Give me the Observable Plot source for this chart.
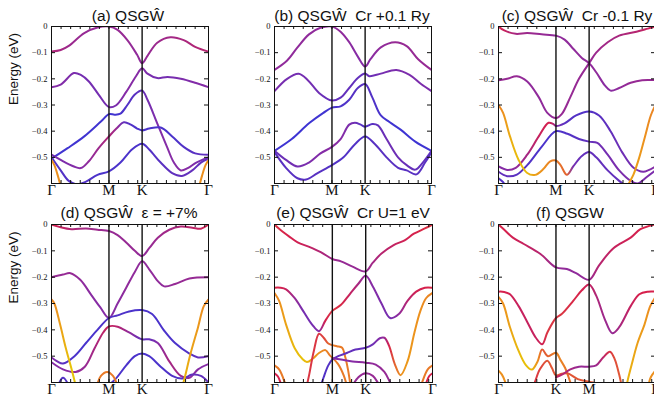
<!DOCTYPE html>
<html><head><meta charset="utf-8">
<script src="https://cdn.jsdelivr.net/npm/d3@7"></script>
<script src="https://cdn.jsdelivr.net/npm/@observablehq/plot@0.6"></script>
<style>
body{margin:0;background:#fff;}
#root{position:relative;width:654px;height:399px;overflow:hidden;background:#fff;}
#root svg{position:absolute;overflow:visible;}
.title{position:absolute;font-family:"Liberation Sans",Arial,sans-serif;font-size:15.5px;line-height:16px;white-space:pre;text-align:center;width:260px;color:#111;}
</style></head><body><div id="root"></div>
<script>
// ---- axis values ----
const kTicks = [0, 1, 1.577, 2.732];
const kLabels = ["Γ", "M", "K", "Γ"];
const kLabelsF = ["Γ", "K", "M", "Γ"];
const eTicks = [0, -0.1, -0.2, -0.3, -0.4, -0.5];
const titles = ["(a) QSGŴ", "(b) QSGŴ  Cr +0.1 Ry", "(c) QSGŴ  Cr -0.1 Ry",
                "(d) QSGŴ  ε = +7%", "(e) QSGŴ  Cr U=1 eV", "(f) QSGW"];
const weightStops = [0, 0.25, 0.5, 0.75, 1];
const weightColors = ["#e6d400", "#ec901e", "#d6204c", "#862ca6", "#2f36dc"];

// ---- bands: [k, energy (eV), orbital weight] ----
const bandsA = [
 [[0,-0.096,0.62],[0.16,-0.09,0.65],[0.3,-0.074,0.68],[0.57,-0.025,0.7],[0.8,-0.004,0.7],[1.0,0,0.7],[1.15,-0.013,0.7],[1.32,-0.052,0.7],[1.49,-0.108,0.72],[1.577,-0.14,0.72],[1.67,-0.112,0.7],[1.84,-0.062,0.68],[2.07,-0.041,0.66],[2.3,-0.052,0.64],[2.5,-0.078,0.62],[2.732,-0.096,0.6]],
 [[0,-0.232,0.75],[0.16,-0.222,0.76],[0.39,-0.178,0.78],[0.51,-0.185,0.8],[0.65,-0.21,0.8],[0.82,-0.26,0.8],[1.0,-0.308,0.8],[1.12,-0.302,0.78],[1.3,-0.25,0.75],[1.47,-0.19,0.75],[1.577,-0.16,0.75],[1.67,-0.18,0.78],[1.84,-0.197,0.8],[2.02,-0.193,0.8],[2.25,-0.2,0.78],[2.5,-0.215,0.76],[2.732,-0.232,0.75]],
 [[0,-0.505,0.95],[0.28,-0.465,0.95],[0.57,-0.42,0.95],[0.86,-0.363,0.95],[1.0,-0.335,0.95],[1.1,-0.337,0.95],[1.2,-0.333,0.93],[1.32,-0.3,0.9],[1.45,-0.26,0.88],[1.577,-0.245,0.85],[1.67,-0.28,0.8],[1.84,-0.37,0.77],[2.01,-0.46,0.75],[2.13,-0.52,0.75],[2.25,-0.55,0.75],[2.38,-0.54,0.75],[2.52,-0.52,0.78],[2.732,-0.5,0.8]],
 [[0,-0.49,0.8],[0.16,-0.51,0.78],[0.39,-0.535,0.76],[0.51,-0.541,0.75],[0.65,-0.515,0.72],[0.82,-0.465,0.68],[1.0,-0.42,0.62],[1.13,-0.39,0.7],[1.26,-0.366,0.85],[1.38,-0.375,0.9],[1.49,-0.39,0.92],[1.577,-0.397,0.92],[1.7,-0.39,0.92],[1.9,-0.386,0.92],[2.1,-0.42,0.92],[2.3,-0.46,0.9],[2.5,-0.485,0.88],[2.732,-0.49,0.85]],
 [[0,-0.5,0.9],[0.16,-0.55,0.9],[0.3,-0.59,0.9],[0.45,-0.603,0.9],[0.6,-0.593,0.9],[0.8,-0.567,0.92],[1.0,-0.554,0.92],[1.2,-0.52,0.92],[1.4,-0.47,0.92],[1.577,-0.448,0.92],[1.7,-0.47,0.9],[1.9,-0.52,0.88],[2.1,-0.56,0.86],[2.27,-0.571,0.85],[2.45,-0.55,0.85],[2.6,-0.52,0.85],[2.732,-0.505,0.85]],
 [[0,-0.51,0.25],[0.05,-0.53,0.25],[0.11,-0.57,0.25],[0.17,-0.62,0.25]],
 [[2.56,-0.62,0.25],[2.62,-0.57,0.25],[2.68,-0.53,0.25],[2.732,-0.51,0.25]]
];
const bandsB = [
 [[0,-0.166,0.72],[0.22,-0.13,0.72],[0.4,-0.08,0.72],[0.6,-0.03,0.72],[0.8,-0.005,0.72],[1.0,0,0.72],[1.15,-0.02,0.72],[1.3,-0.06,0.73],[1.45,-0.115,0.75],[1.577,-0.153,0.75],[1.67,-0.125,0.74],[1.85,-0.08,0.72],[2.1,-0.06,0.7],[2.3,-0.075,0.7],[2.5,-0.125,0.7],[2.732,-0.166,0.7]],
 [[0,-0.247,0.78],[0.22,-0.2,0.8],[0.42,-0.181,0.8],[0.58,-0.205,0.8],[0.78,-0.255,0.82],[1.0,-0.283,0.85],[1.15,-0.272,0.85],[1.3,-0.235,0.85],[1.45,-0.197,0.85],[1.577,-0.18,0.85],[1.65,-0.19,0.83],[1.85,-0.18,0.8],[2.12,-0.166,0.78],[2.35,-0.185,0.78],[2.55,-0.22,0.78],[2.732,-0.247,0.78]],
 [[0,-0.475,0.95],[0.3,-0.43,0.96],[0.6,-0.37,0.96],[0.85,-0.33,0.95],[1.0,-0.31,0.93],[1.15,-0.305,0.92],[1.3,-0.28,0.9],[1.45,-0.235,0.88],[1.577,-0.22,0.88],[1.7,-0.27,0.9],[1.85,-0.34,0.93],[2.0,-0.365,0.95],[2.2,-0.395,0.96],[2.45,-0.44,0.96],[2.732,-0.475,0.95]],
 [[0,-0.475,0.85],[0.2,-0.51,0.82],[0.4,-0.535,0.8],[0.6,-0.52,0.78],[0.8,-0.485,0.76],[1.0,-0.46,0.74],[1.15,-0.43,0.75],[1.3,-0.375,0.78],[1.4,-0.368,0.82],[1.5,-0.375,0.88],[1.577,-0.383,0.9],[1.7,-0.373,0.88],[1.8,-0.378,0.85],[1.95,-0.43,0.82],[2.15,-0.5,0.82],[2.3,-0.53,0.84],[2.45,-0.547,0.85],[2.58,-0.52,0.85],[2.732,-0.475,0.85]],
 [[0,-0.48,0.88],[0.2,-0.54,0.88],[0.4,-0.58,0.88],[0.55,-0.585,0.88],[0.75,-0.56,0.88],[1.0,-0.53,0.9],[1.2,-0.5,0.9],[1.4,-0.45,0.9],[1.577,-0.42,0.9],[1.75,-0.45,0.88],[1.95,-0.5,0.88],[2.15,-0.54,0.88],[2.3,-0.55,0.88],[2.47,-0.565,0.88],[2.62,-0.52,0.88],[2.732,-0.48,0.88]]
];
const bandsC = [
 [[0,0,0.48],[0.1,-0.015,0.55],[0.3,-0.028,0.65],[0.5,-0.025,0.68],[0.75,-0.03,0.7],[1.0,-0.035,0.72],[1.15,-0.05,0.72],[1.3,-0.085,0.72],[1.45,-0.12,0.72],[1.577,-0.14,0.72],[1.7,-0.175,0.72],[1.85,-0.225,0.74],[1.95,-0.245,0.74],[2.1,-0.235,0.72],[2.3,-0.215,0.7],[2.5,-0.205,0.7],[2.732,-0.205,0.7]],
 [[0,-0.205,0.7],[0.15,-0.2,0.7],[0.32,-0.19,0.7],[0.5,-0.21,0.72],[0.7,-0.27,0.72],[0.85,-0.33,0.72],[1.0,-0.35,0.7],[1.1,-0.335,0.7],[1.25,-0.27,0.7],[1.4,-0.2,0.7],[1.577,-0.14,0.7],[1.7,-0.1,0.68],[1.9,-0.06,0.66],[2.1,-0.035,0.64],[2.4,-0.02,0.6],[2.6,-0.008,0.55],[2.732,0,0.5]],
 [[0,-0.535,0.75],[0.15,-0.548,0.75],[0.3,-0.54,0.72],[0.5,-0.49,0.65],[0.7,-0.42,0.55],[0.87,-0.368,0.5],[0.95,-0.372,0.6],[1.0,-0.38,0.75],[1.15,-0.37,0.88],[1.35,-0.34,0.9],[1.577,-0.325,0.9],[1.75,-0.34,0.88],[1.95,-0.4,0.85],[2.15,-0.48,0.82],[2.35,-0.54,0.8],[2.52,-0.555,0.78],[2.732,-0.535,0.75]],
 [[0,-0.555,0.85],[0.15,-0.572,0.85],[0.32,-0.566,0.88],[0.5,-0.53,0.9],[0.75,-0.46,0.92],[1.0,-0.4,0.92],[1.2,-0.41,0.9],[1.4,-0.43,0.88],[1.577,-0.44,0.85],[1.72,-0.445,0.82],[1.9,-0.49,0.8],[2.1,-0.55,0.78],[2.3,-0.59,0.78],[2.42,-0.6,0.78],[2.58,-0.575,0.78],[2.732,-0.55,0.78]],
 [[0,-0.3,0.28],[0.08,-0.33,0.25],[0.2,-0.42,0.15],[0.35,-0.51,0.08],[0.5,-0.56,0.1],[0.64,-0.567,0.2],[0.78,-0.545,0.25],[0.9,-0.515,0.28],[1.0,-0.512,0.3],[1.08,-0.53,0.32],[1.19,-0.567,0.35],[1.3,-0.535,0.8],[1.45,-0.495,0.85],[1.577,-0.48,0.85],[1.7,-0.5,0.85],[1.9,-0.55,0.85],[2.1,-0.59,0.85],[2.25,-0.615,0.85]],
 [[2.25,-0.62,0.2],[2.27,-0.6,0.2],[2.35,-0.565,0.2],[2.45,-0.5,0.22],[2.55,-0.42,0.25],[2.65,-0.34,0.27],[2.732,-0.3,0.28]],
 [[0,-0.58,0.9],[0.08,-0.595,0.9],[0.15,-0.62,0.9]]
];
const bandsD = [
 [[0,0,0.5],[0.15,-0.01,0.55],[0.35,-0.018,0.62],[0.6,-0.015,0.66],[0.8,-0.02,0.68],[1.0,-0.025,0.7],[1.15,-0.04,0.7],[1.3,-0.068,0.7],[1.45,-0.1,0.7],[1.577,-0.12,0.72],[1.7,-0.09,0.7],[1.85,-0.05,0.68],[2.05,-0.02,0.66],[2.25,-0.008,0.62],[2.45,-0.012,0.58],[2.6,-0.016,0.55],[2.732,0,0.5]],
 [[0,-0.2,0.7],[0.2,-0.19,0.7],[0.33,-0.185,0.7],[0.5,-0.21,0.72],[0.7,-0.27,0.74],[0.85,-0.315,0.75],[1.0,-0.355,0.75],[1.15,-0.3,0.74],[1.3,-0.24,0.72],[1.45,-0.18,0.72],[1.577,-0.14,0.72],[1.7,-0.17,0.72],[1.85,-0.215,0.72],[1.96,-0.235,0.72],[2.15,-0.226,0.7],[2.4,-0.205,0.7],[2.732,-0.2,0.7]],
 [[0,-0.505,0.75],[0.1,-0.52,0.8],[0.2,-0.528,0.88],[0.4,-0.5,0.92],[0.6,-0.45,0.93],[0.8,-0.4,0.92],[1.0,-0.355,0.9],[1.15,-0.345,0.9],[1.35,-0.33,0.92],[1.577,-0.325,0.92],[1.75,-0.34,0.92],[1.95,-0.4,0.92],[2.15,-0.45,0.92],[2.4,-0.49,0.9],[2.55,-0.505,0.85],[2.732,-0.5,0.8]],
 [[0,-0.523,0.75],[0.2,-0.55,0.75],[0.42,-0.56,0.72],[0.58,-0.54,0.7],[0.75,-0.47,0.65],[0.9,-0.41,0.58],[1.0,-0.387,0.55],[1.15,-0.388,0.6],[1.35,-0.41,0.72],[1.577,-0.436,0.85],[1.7,-0.436,0.85],[1.85,-0.45,0.75],[2.05,-0.52,0.65],[2.25,-0.575,0.68],[2.4,-0.582,0.72],[2.55,-0.55,0.75],[2.732,-0.53,0.75]],
 [[0.93,-0.62,0.9],[1.1,-0.59,0.92],[1.3,-0.535,0.92],[1.45,-0.5,0.92],[1.577,-0.49,0.92],[1.7,-0.5,0.92],[1.9,-0.54,0.92],[2.1,-0.575,0.9],[2.28,-0.585,0.9],[2.45,-0.57,0.85],[2.6,-0.575,0.85],[2.732,-0.6,0.85]],
 [[0.1,-0.62,0.9],[0.2,-0.582,0.9],[0.32,-0.62,0.9]],
 [[0,-0.285,0.28],[0.05,-0.3,0.26],[0.15,-0.38,0.2],[0.25,-0.47,0.12],[0.35,-0.55,0.06],[0.43,-0.62,0.06]],
 [[0.78,-0.62,0.3],[0.86,-0.575,0.3],[0.97,-0.56,0.3],[1.07,-0.575,0.3],[1.15,-0.61,0.3],[1.18,-0.62,0.3]],
 [[2.27,-0.62,0.1],[2.32,-0.58,0.12],[2.42,-0.49,0.18],[2.55,-0.39,0.22],[2.65,-0.31,0.26],[2.732,-0.285,0.28]]
];
const bandsE = [
 [[0,0,0.45],[0.1,-0.02,0.48],[0.25,-0.045,0.5],[0.4,-0.068,0.52],[0.6,-0.085,0.56],[0.8,-0.105,0.62],[1.0,-0.131,0.68],[1.15,-0.14,0.7],[1.35,-0.16,0.7],[1.577,-0.178,0.7],[1.7,-0.145,0.66],[1.85,-0.11,0.6],[2.06,-0.078,0.56],[2.25,-0.06,0.52],[2.41,-0.035,0.5],[2.6,-0.015,0.47],[2.732,0,0.45]],
 [[0,-0.24,0.48],[0.1,-0.24,0.5],[0.2,-0.246,0.55],[0.35,-0.28,0.7],[0.5,-0.33,0.8],[0.65,-0.38,0.8],[0.77,-0.405,0.75],[0.88,-0.365,0.5],[1.0,-0.328,0.45],[1.15,-0.305,0.48],[1.3,-0.265,0.55],[1.45,-0.225,0.65],[1.577,-0.195,0.72],[1.7,-0.235,0.75],[1.85,-0.3,0.78],[2.0,-0.355,0.8],[2.15,-0.34,0.72],[2.3,-0.29,0.6],[2.45,-0.255,0.52],[2.6,-0.24,0.5],[2.732,-0.24,0.48]],
 [[0,-0.26,0.28],[0.08,-0.29,0.25],[0.2,-0.38,0.18],[0.35,-0.47,0.1],[0.48,-0.51,0.07],[0.56,-0.522,0.1],[0.66,-0.51,0.2],[0.77,-0.488,0.25],[0.88,-0.477,0.28],[0.95,-0.495,0.3],[1.0,-0.506,0.3],[1.1,-0.53,0.3],[1.2,-0.575,0.3],[1.26,-0.62,0.3]],
 [[0.55,-0.62,0.45],[0.6,-0.57,0.45],[0.68,-0.48,0.45],[0.77,-0.415,0.45],[0.85,-0.43,0.42],[0.93,-0.452,0.35],[1.0,-0.458,0.3],[1.08,-0.462,0.3],[1.17,-0.468,0.3],[1.22,-0.5,0.3],[1.27,-0.55,0.3],[1.32,-0.62,0.3]],
 [[0.79,-0.62,0.9],[0.85,-0.58,0.9],[0.93,-0.535,0.9],[1.0,-0.513,0.88],[1.1,-0.5,0.85],[1.25,-0.488,0.85],[1.4,-0.475,0.85],[1.577,-0.468,0.85],[1.7,-0.455,0.82],[1.82,-0.432,0.75],[1.9,-0.43,0.7],[1.98,-0.46,0.5],[2.08,-0.53,0.35],[2.18,-0.572,0.25],[2.3,-0.52,0.22],[2.42,-0.41,0.24],[2.52,-0.33,0.25],[2.62,-0.28,0.27],[2.732,-0.26,0.28]],
 [[1.0,-0.508,0.75],[1.15,-0.513,0.75],[1.35,-0.52,0.75],[1.577,-0.525,0.72],[1.75,-0.532,0.72],[1.9,-0.56,0.7],[2.0,-0.6,0.7],[2.05,-0.62,0.7]],
 [[1.33,-0.62,0.7],[1.45,-0.58,0.7],[1.577,-0.565,0.7],[1.7,-0.575,0.7],[1.8,-0.605,0.7],[1.85,-0.62,0.7]],
 [[0,-0.535,0.3],[0.08,-0.55,0.3],[0.17,-0.595,0.3],[0.2,-0.62,0.3]],
 [[0,-0.565,0.5],[0.06,-0.577,0.5],[0.13,-0.62,0.5]],
 [[2.53,-0.62,0.3],[2.56,-0.595,0.3],[2.65,-0.55,0.3],[2.732,-0.535,0.3]],
 [[2.6,-0.62,0.5],[2.67,-0.577,0.5],[2.732,-0.565,0.5]]
];
const bandsF = [
 [[0,0,0.48],[0.1,-0.02,0.5],[0.25,-0.05,0.52],[0.44,-0.074,0.55],[0.73,-0.112,0.6],[1.0,-0.163,0.7],[1.19,-0.169,0.72],[1.35,-0.185,0.72],[1.577,-0.21,0.7],[1.75,-0.155,0.6],[2.0,-0.09,0.55],[2.3,-0.05,0.52],[2.47,-0.018,0.5],[2.732,0,0.48]],
 [[0,-0.255,0.5],[0.1,-0.256,0.5],[0.2,-0.265,0.52],[0.35,-0.31,0.55],[0.5,-0.37,0.55],[0.65,-0.43,0.55],[0.76,-0.455,0.52],[0.85,-0.41,0.45],[1.0,-0.355,0.45],[1.1,-0.34,0.45],[1.3,-0.29,0.48],[1.45,-0.25,0.5],[1.577,-0.228,0.55],[1.7,-0.27,0.62],[1.85,-0.36,0.68],[1.98,-0.413,0.7],[2.1,-0.39,0.65],[2.3,-0.31,0.55],[2.45,-0.265,0.5],[2.6,-0.255,0.5],[2.732,-0.255,0.5]],
 [[0,-0.275,0.28],[0.08,-0.3,0.25],[0.2,-0.39,0.18],[0.35,-0.48,0.1],[0.48,-0.535,0.07],[0.58,-0.551,0.1],[0.68,-0.52,0.25],[0.76,-0.475,0.38],[0.86,-0.5,0.35],[1.0,-0.487,0.28],[1.08,-0.515,0.28],[1.16,-0.545,0.3],[1.22,-0.58,0.32],[1.28,-0.62,0.32]],
 [[0.6,-0.62,0.45],[0.64,-0.595,0.45],[0.72,-0.55,0.42],[0.85,-0.517,0.38],[0.93,-0.545,0.38],[1.0,-0.573,0.38],[1.1,-0.567,0.38],[1.2,-0.565,0.38],[1.38,-0.587,0.38],[1.577,-0.597,0.38],[1.65,-0.6,0.38]],
 [[1.0,-0.58,0.55],[1.12,-0.568,0.6],[1.25,-0.55,0.65],[1.4,-0.54,0.7],[1.577,-0.54,0.7],[1.7,-0.535,0.68],[1.82,-0.505,0.58],[1.94,-0.483,0.45],[2.02,-0.51,0.4],[2.1,-0.57,0.38],[2.15,-0.62,0.38]],
 [[2.22,-0.62,0.1],[2.25,-0.59,0.12],[2.32,-0.53,0.15],[2.42,-0.45,0.2],[2.54,-0.38,0.22],[2.64,-0.31,0.26],[2.732,-0.275,0.28]],
 [[0,-0.555,0.25],[0.06,-0.57,0.25],[0.12,-0.6,0.25],[0.14,-0.62,0.25]],
 [[2.6,-0.62,0.25],[2.65,-0.58,0.25],[2.732,-0.555,0.25]]
];

const kMinor = d3.range(1, 17).map(i => i / 6);

const panels = [
  {id:"a", bands:bandsA, labels:kLabels, title:titles[0], left:51,  top:26,  w:157, h:157, ylabel:true,  tx:128, ty:8},
  {id:"b", bands:bandsB, labels:kLabels, title:titles[1], left:274, top:26,  w:157, h:157, ylabel:false, tx:352, ty:8},
  {id:"c", bands:bandsC, labels:kLabels, title:titles[2], left:498, top:26,  w:157, h:157, ylabel:false, tx:577, ty:8},
  {id:"d", bands:bandsD, labels:kLabels, title:titles[3], left:51,  top:224, w:157, h:158, ylabel:true,  tx:129, ty:205},
  {id:"e", bands:bandsE, labels:kLabels, title:titles[4], left:274, top:224, w:158, h:158, ylabel:false, tx:353, ty:205},
  {id:"f", bands:bandsF, labels:kLabelsF, title:titles[5], left:498, top:224, w:157, h:158, ylabel:false, tx:570, ty:205}
];

const colorScale = Plot.scale({color: {type: "linear", domain: weightStops, range: weightColors}});
const root = document.getElementById("root");
const fmtE = d => d === 0 ? "0" : "\u2212" + Math.abs(d).toFixed(1);

for (const p of panels) {
  const mL = p.ylabel ? 51 : 45, mR = 4, mT = 2, mB = 18;
  const marks = [];
  p.bands.forEach((b, i) => {
    const rows = b.map(([k, E, w]) => ({k, E, w}));
    marks.push(Plot.line(rows, {x: "k", y: "E", stroke: `url(#g-${p.id}-${i})`, strokeWidth: 2, curve: "catmull-rom", clip: true}));
  });
  marks.push(
    Plot.ruleX(kTicks.slice(1, 3), {stroke: "#111", strokeWidth: 1.4}),
    Plot.frame({stroke: "#111", strokeWidth: 1}),
    Plot.tickY(eTicks, {y: d => d, insetRight: p.w - 4, stroke: "#111"}),
    Plot.tickY(eTicks, {y: d => d, insetLeft: p.w - 4, stroke: "#111"}),
    Plot.tickX(kMinor, {x: d => d, insetBottom: p.h - 3, stroke: "#111"}),
    Plot.tickX(kMinor, {x: d => d, insetTop: p.h - 3, stroke: "#111"}),
    Plot.axisX(kTicks, {tickSize: 0, tickPadding: 1, tickFormat: d => p.labels[kTicks.indexOf(d)], fontSize: 15, fontFamily: "Liberation Serif", label: null, color: "#111"}),
    Plot.axisY(eTicks, {tickSize: 0, tickPadding: 4, tickFormat: fmtE, fontSize: 8.5, fontFamily: "Liberation Serif", label: null, color: "#111"})
  );
  if (p.ylabel) {
    marks.push(Plot.text(["Energy (eV)"], {frameAnchor: "left", rotate: -90, dx: -38, fontSize: 13.5, fontFamily: "Liberation Sans", fill: "#111"}));
  }
  const chart = Plot.plot({
    width: mL + p.w + mR, height: mT + p.h + mB,
    marginLeft: mL, marginRight: mR, marginTop: mT, marginBottom: mB,
    x: {domain: [kTicks[0], kTicks[3]]},
    y: {domain: [-0.6, 0]},
    style: {background: "transparent", color: "#111"},
    marks
  });
  const defs = d3.select(chart).insert("defs", ":first-child");
  p.bands.forEach((b, i) => {
    const k0 = d3.min(b, d => d[0]), k1 = d3.max(b, d => d[0]);
    const g = defs.append("linearGradient").attr("id", `g-${p.id}-${i}`)
      .attr("x1", 0).attr("y1", 0).attr("x2", 1).attr("y2", 0);
    b.slice().sort((u, v) => u[0] - v[0]).forEach(d => {
      g.append("stop").attr("offset", (d[0] - k0) / (k1 - k0)).attr("stop-color", colorScale.apply(d[2]));
    });
  });
  chart.style.left = (p.left - mL) + "px";
  chart.style.top = (p.top - mT) + "px";
  root.appendChild(chart);
  const t = document.createElement("div");
  t.className = "title";
  t.textContent = p.title;
  t.style.left = (p.tx - 130) + "px";
  t.style.top = p.ty + "px";
  root.appendChild(t);
}
</script></body></html>
